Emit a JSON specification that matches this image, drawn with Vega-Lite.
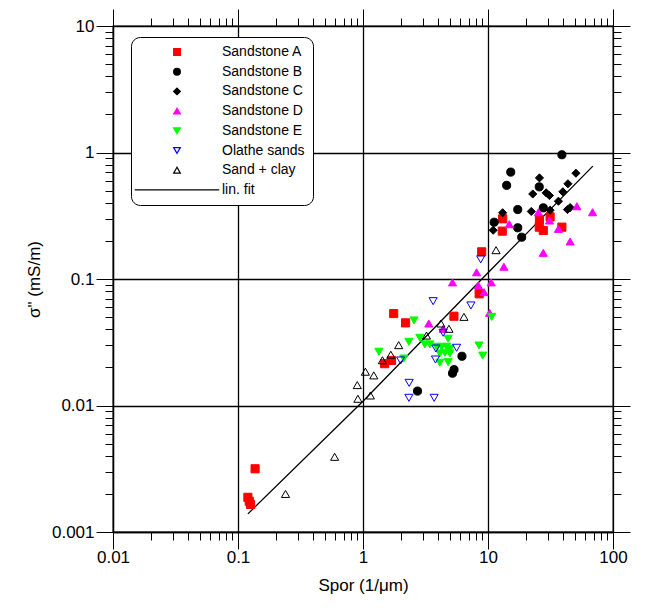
{
  "$schema": "https://vega.github.io/schema/vega-lite/v6.json",
  "width": 500,
  "height": 506,
  "autosize": {"type": "none"},
  "padding": {"left": 113, "top": 26, "right": 35, "bottom": 84},
  "background": "white",
  "config": {
    "view": {"stroke": "black", "strokeWidth": 1.3},
    "font": "Liberation Sans",
    "axis": {
      "domainColor": "black", "domainWidth": 1.3,
      "ticks": true, "tickColor": "black", "tickWidth": 1, "tickOpacity": 1,
      "gridColor": "black", "gridWidth": 1.3,
      "labelFont": "Liberation Sans", "labelFontSize": 17, "labelColor": "black",
      "titleFont": "Liberation Sans", "titleFontSize": 17, "titleFontWeight": "normal", "titleColor": "black"
    }
  },
  "datasets": {
    "pts": [
      {"S": 13.1, "sigma": 0.299, "series": "Sandstone A"},
      {"S": 13.0, "sigma": 0.239, "series": "Sandstone A"},
      {"S": 25.8, "sigma": 0.296, "series": "Sandstone A"},
      {"S": 31.4, "sigma": 0.31, "series": "Sandstone A"},
      {"S": 25.7, "sigma": 0.257, "series": "Sandstone A"},
      {"S": 27.7, "sigma": 0.242, "series": "Sandstone A"},
      {"S": 39.0, "sigma": 0.257, "series": "Sandstone A"},
      {"S": 8.9, "sigma": 0.164, "series": "Sandstone A"},
      {"S": 8.5, "sigma": 0.0764, "series": "Sandstone A"},
      {"S": 5.34, "sigma": 0.0508, "series": "Sandstone A"},
      {"S": 1.76, "sigma": 0.0533, "series": "Sandstone A"},
      {"S": 2.19, "sigma": 0.045, "series": "Sandstone A"},
      {"S": 1.49, "sigma": 0.0214, "series": "Sandstone A"},
      {"S": 1.69, "sigma": 0.0227, "series": "Sandstone A"},
      {"S": 0.137, "sigma": 0.00316, "series": "Sandstone A"},
      {"S": 0.12, "sigma": 0.00188, "series": "Sandstone A"},
      {"S": 0.123, "sigma": 0.00175, "series": "Sandstone A"},
      {"S": 0.126, "sigma": 0.00165, "series": "Sandstone A"},
      {"S": 39.0, "sigma": 0.96, "series": "Sandstone B"},
      {"S": 15.2, "sigma": 0.70, "series": "Sandstone B"},
      {"S": 14.1, "sigma": 0.55, "series": "Sandstone B"},
      {"S": 25.7, "sigma": 0.535, "series": "Sandstone B"},
      {"S": 17.3, "sigma": 0.354, "series": "Sandstone B"},
      {"S": 27.7, "sigma": 0.365, "series": "Sandstone B"},
      {"S": 11.2, "sigma": 0.281, "series": "Sandstone B"},
      {"S": 17.3, "sigma": 0.254, "series": "Sandstone B"},
      {"S": 18.6, "sigma": 0.214, "series": "Sandstone B"},
      {"S": 2.73, "sigma": 0.013, "series": "Sandstone B"},
      {"S": 5.2, "sigma": 0.018, "series": "Sandstone B"},
      {"S": 5.35, "sigma": 0.0192, "series": "Sandstone B"},
      {"S": 6.19, "sigma": 0.0245, "series": "Sandstone B"},
      {"S": 25.8, "sigma": 0.63, "series": "Sandstone C"},
      {"S": 22.8, "sigma": 0.47, "series": "Sandstone C"},
      {"S": 29.2, "sigma": 0.48, "series": "Sandstone C"},
      {"S": 31.0, "sigma": 0.457, "series": "Sandstone C"},
      {"S": 50.5, "sigma": 0.686, "series": "Sandstone C"},
      {"S": 43.6, "sigma": 0.566, "series": "Sandstone C"},
      {"S": 39.7, "sigma": 0.489, "series": "Sandstone C"},
      {"S": 36.6, "sigma": 0.412, "series": "Sandstone C"},
      {"S": 43.2, "sigma": 0.354, "series": "Sandstone C"},
      {"S": 45.4, "sigma": 0.367, "series": "Sandstone C"},
      {"S": 22.2, "sigma": 0.342, "series": "Sandstone C"},
      {"S": 31.4, "sigma": 0.35, "series": "Sandstone C"},
      {"S": 13.1, "sigma": 0.334, "series": "Sandstone C"},
      {"S": 11.0, "sigma": 0.243, "series": "Sandstone C"},
      {"S": 14.8, "sigma": 0.271, "series": "Sandstone D"},
      {"S": 25.3, "sigma": 0.337, "series": "Sandstone D"},
      {"S": 31.0, "sigma": 0.29, "series": "Sandstone D"},
      {"S": 36.6, "sigma": 0.249, "series": "Sandstone D"},
      {"S": 51.4, "sigma": 0.376, "series": "Sandstone D"},
      {"S": 68.6, "sigma": 0.337, "series": "Sandstone D"},
      {"S": 45.4, "sigma": 0.198, "series": "Sandstone D"},
      {"S": 27.7, "sigma": 0.161, "series": "Sandstone D"},
      {"S": 13.4, "sigma": 0.125, "series": "Sandstone D"},
      {"S": 8.1, "sigma": 0.113, "series": "Sandstone D"},
      {"S": 5.2, "sigma": 0.094, "series": "Sandstone D"},
      {"S": 10.6, "sigma": 0.094, "series": "Sandstone D"},
      {"S": 8.36, "sigma": 0.089, "series": "Sandstone D"},
      {"S": 9.3, "sigma": 0.0787, "series": "Sandstone D"},
      {"S": 10.3, "sigma": 0.054, "series": "Sandstone D"},
      {"S": 3.36, "sigma": 0.0445, "series": "Sandstone D"},
      {"S": 4.38, "sigma": 0.0404, "series": "Sandstone D"},
      {"S": 2.56, "sigma": 0.047, "series": "Sandstone E"},
      {"S": 4.8, "sigma": 0.0337, "series": "Sandstone E"},
      {"S": 2.33, "sigma": 0.0319, "series": "Sandstone E"},
      {"S": 2.85, "sigma": 0.0343, "series": "Sandstone E"},
      {"S": 8.47, "sigma": 0.0298, "series": "Sandstone E"},
      {"S": 10.7, "sigma": 0.0502, "series": "Sandstone E"},
      {"S": 1.34, "sigma": 0.0266, "series": "Sandstone E"},
      {"S": 2.12, "sigma": 0.0235, "series": "Sandstone E"},
      {"S": 9.07, "sigma": 0.0248, "series": "Sandstone E"},
      {"S": 3.12, "sigma": 0.0304, "series": "Sandstone E"},
      {"S": 3.43, "sigma": 0.0304, "series": "Sandstone E"},
      {"S": 3.88, "sigma": 0.0291, "series": "Sandstone E"},
      {"S": 4.25, "sigma": 0.0291, "series": "Sandstone E"},
      {"S": 4.67, "sigma": 0.0291, "series": "Sandstone E"},
      {"S": 4.12, "sigma": 0.0258, "series": "Sandstone E"},
      {"S": 4.52, "sigma": 0.0261, "series": "Sandstone E"},
      {"S": 4.96, "sigma": 0.0258, "series": "Sandstone E"},
      {"S": 4.12, "sigma": 0.0218, "series": "Sandstone E"},
      {"S": 4.8, "sigma": 0.022, "series": "Sandstone E"},
      {"S": 4.96, "sigma": 0.0281, "series": "Sandstone E"},
      {"S": 8.74, "sigma": 0.143, "series": "Olathe sands"},
      {"S": 7.3, "sigma": 0.0618, "series": "Olathe sands"},
      {"S": 3.64, "sigma": 0.0668, "series": "Olathe sands"},
      {"S": 4.38, "sigma": 0.0376, "series": "Olathe sands"},
      {"S": 2.0, "sigma": 0.0227, "series": "Olathe sands"},
      {"S": 5.61, "sigma": 0.0286, "series": "Olathe sands"},
      {"S": 3.83, "sigma": 0.0282, "series": "Olathe sands"},
      {"S": 3.8, "sigma": 0.0231, "series": "Olathe sands"},
      {"S": 2.34, "sigma": 0.0151, "series": "Olathe sands"},
      {"S": 2.33, "sigma": 0.0115, "series": "Olathe sands"},
      {"S": 3.71, "sigma": 0.0115, "series": "Olathe sands"},
      {"S": 11.6, "sigma": 0.169, "series": "Sand + clay"},
      {"S": 6.42, "sigma": 0.0502, "series": "Sand + clay"},
      {"S": 4.2, "sigma": 0.0445, "series": "Sand + clay"},
      {"S": 4.87, "sigma": 0.0404, "series": "Sand + clay"},
      {"S": 3.22, "sigma": 0.0357, "series": "Sand + clay"},
      {"S": 1.93, "sigma": 0.030, "series": "Sand + clay"},
      {"S": 1.43, "sigma": 0.0228, "series": "Sand + clay"},
      {"S": 1.67, "sigma": 0.0252, "series": "Sand + clay"},
      {"S": 1.045, "sigma": 0.0185, "series": "Sand + clay"},
      {"S": 1.22, "sigma": 0.0173, "series": "Sand + clay"},
      {"S": 0.90, "sigma": 0.0145, "series": "Sand + clay"},
      {"S": 0.91, "sigma": 0.0113, "series": "Sand + clay"},
      {"S": 1.146, "sigma": 0.012, "series": "Sand + clay"},
      {"S": 0.24, "sigma": 0.002, "series": "Sand + clay"},
      {"S": 0.593, "sigma": 0.00393, "series": "Sand + clay"}
    ],
    "fit": [
      {"S": 0.12, "sigma": 0.00139},
      {"S": 1, "sigma": 0.0108},
      {"S": 10, "sigma": 0.112},
      {"S": 69, "sigma": 0.78}
    ]
  },
  "resolve": {"axis": {"x": "independent", "y": "independent"}},
  "layer": [
    {
      "data": {"name": "fit"},
      "mark": {"type": "line", "opacity": 0},
      "encoding": {
        "x": {
          "field": "S", "type": "quantitative",
          "scale": {"type": "log", "domain": [0.01, 100], "nice": false},
          "axis": {
            "orient": "bottom",
            "title": "Spor (1/μm)",
            "values": [0.01, 0.1, 1, 10, 100],
            "format": "~g",
            "tickSize": 17,
            "grid": true,
            "labelPadding": 0,
            "labelFlush": false,
            "labelOverlap": false,
            "titlePadding": 12
          }
        },
        "y": {
          "field": "sigma", "type": "quantitative",
          "scale": {"type": "log", "domain": [0.001, 10], "nice": false},
          "axis": {
            "orient": "left",
            "title": "σ\" (mS/m)",
            "values": [0.001, 0.01, 0.1, 1, 10],
            "format": "~g",
            "tickSize": 17,
            "grid": true,
            "labelPadding": 2,
            "labelFlush": false,
            "labelOverlap": false,
            "titlePadding": 8
          }
        }
      }
    },
    {
      "data": {"name": "fit"},
      "mark": {"type": "line", "opacity": 0},
      "encoding": {
        "x": {
          "field": "S", "type": "quantitative",
          "axis": {"orient": "top", "title": null, "labels": false, "grid": false, "domain": false, "tickSize": 17, "values": [0.01, 0.1, 1, 10, 100]}
        },
        "y": {
          "field": "sigma", "type": "quantitative",
          "axis": {"orient": "right", "title": null, "labels": false, "grid": false, "domain": false, "tickSize": 17, "values": [0.001, 0.01, 0.1, 1, 10]}
        }
      }
    },
    {
      "data": {"name": "fit"},
      "mark": {"type": "line", "opacity": 0},
      "encoding": {
        "x": {
          "field": "S", "type": "quantitative",
          "axis": {
            "orient": "bottom", "title": null, "labels": false, "grid": false, "domain": false, "tickSize": 8,
            "values": [0.02,0.03,0.04,0.05,0.06,0.07,0.08,0.09,0.2,0.3,0.4,0.5,0.6,0.7,0.8,0.9,2,3,4,5,6,7,8,9,20,30,40,50,60,70,80,90]
          }
        },
        "y": {
          "field": "sigma", "type": "quantitative",
          "axis": {
            "orient": "left", "title": null, "labels": false, "grid": false, "domain": false, "tickSize": 8,
            "values": [0.002,0.003,0.004,0.005,0.006,0.007,0.008,0.009,0.02,0.03,0.04,0.05,0.06,0.07,0.08,0.09,0.2,0.3,0.4,0.5,0.6,0.7,0.8,0.9,2,3,4,5,6,7,8,9]
          }
        }
      }
    },
    {
      "data": {"name": "fit"},
      "mark": {"type": "line", "color": "black", "strokeWidth": 1.3},
      "encoding": {
        "x": {
          "field": "S", "type": "quantitative",
          "axis": {
            "orient": "top", "title": null, "labels": false, "grid": false, "domain": false, "tickSize": 8,
            "values": [0.02,0.03,0.04,0.05,0.06,0.07,0.08,0.09,0.2,0.3,0.4,0.5,0.6,0.7,0.8,0.9,2,3,4,5,6,7,8,9,20,30,40,50,60,70,80,90]
          }
        },
        "y": {
          "field": "sigma", "type": "quantitative",
          "axis": {
            "orient": "right", "title": null, "labels": false, "grid": false, "domain": false, "tickSize": 8,
            "values": [0.002,0.003,0.004,0.005,0.006,0.007,0.008,0.009,0.02,0.03,0.04,0.05,0.06,0.07,0.08,0.09,0.2,0.3,0.4,0.5,0.6,0.7,0.8,0.9,2,3,4,5,6,7,8,9]
          }
        }
      }
    },
    {
      "data": {"name": "pts"},
      "mark": {"type": "point", "strokeWidth": 1, "opacity": 1, "size": 66},
      "encoding": {
        "x": {"field": "S", "type": "quantitative", "axis": null},
        "y": {"field": "sigma", "type": "quantitative", "axis": null},
        "shape": {
          "field": "series", "type": "nominal",
          "scale": {
            "domain": ["Sandstone A","Sandstone B","Sandstone C","Sandstone D","Sandstone E","Olathe sands","Sand + clay","lin. fit"],
            "range": ["square","circle","diamond","triangle-up","triangle-down","triangle-down","triangle-up","M -12.6 0 L 12.6 0"]
          },
          "legend": {
            "title": null,
            "orient": "none",
            "legendX": 18,
            "legendY": 11,
            "strokeColor": "black",
            "cornerRadius": 9,
            "padding": 8,
            "fillColor": "white",
            "labelFont": "Liberation Sans",
            "labelFontSize": 14,
            "labelColor": "black",
            "symbolSize": 45,
            "symbolStrokeWidth": 1.2,
            "symbolOffset": 31,
            "labelOffset": 38,
            "rowPadding": 5.7,
            "symbolOpacity": 1
          }
        },
        "fill": {
          "field": "series", "type": "nominal",
          "scale": {
            "domain": ["Sandstone A","Sandstone B","Sandstone C","Sandstone D","Sandstone E","Olathe sands","Sand + clay","lin. fit"],
            "range": ["#ff0000","#000000","#000000","#ff00ff","#00ff00","transparent","transparent","transparent"]
          }
        },
        "stroke": {
          "field": "series", "type": "nominal",
          "scale": {
            "domain": ["Sandstone A","Sandstone B","Sandstone C","Sandstone D","Sandstone E","Olathe sands","Sand + clay","lin. fit"],
            "range": ["#ff0000","#000000","#000000","#ff00ff","#00ff00","#0000ff","#000000","#000000"]
          }
        }
      }
    }
  ]
}
